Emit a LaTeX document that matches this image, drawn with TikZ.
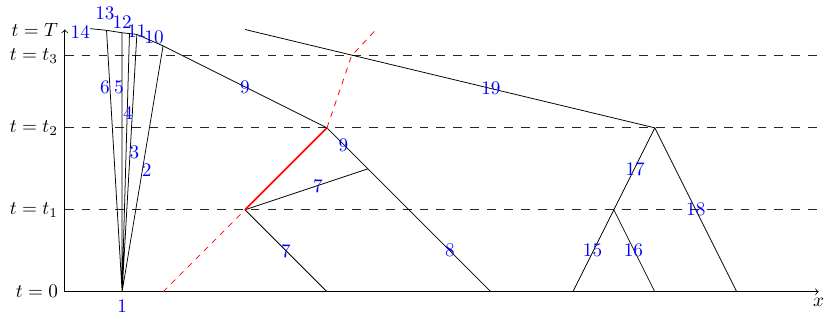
\documentclass[tikz,border=0pt]{standalone}
\usetikzlibrary{arrows}
\begin{document}
\begin{tikzpicture}[x=1.5cm, y=1.5cm,
  level/.style={dash pattern=on 4.6pt off 4.2pt, semithick, black!85},
  wave/.style={draw, black},
  path/.style={red, dashed},
  lbl/.style={text=blue, inner sep=1pt},
]
\useasboundingbox (-1.99,-0.33) rectangle (8.15,3.56);
% axes
\coordinate (O) at (-1.2,0);
\coordinate (xend) at (8,0);
\coordinate (yend) at (-1.2,3.2);
\draw[->] (O) -- (xend) node[below] (xl) {$x$};
\draw[->] (O) -- (yend) node[left] (tT) {$t=T$};
\node[left] (t0) at (O) {$t=0$};
% time levels
\coordinate (l1) at (-1.2,1);    \coordinate (r1) at (8,1);
\coordinate (l2) at (-1.2,2);    \coordinate (r2) at (8,2);
\coordinate (l3) at (-1.2,2.88); \coordinate (r3) at (8,2.88);
\draw[level] (l1) -- (r1); \node[left] (tt1) at (l1) {$t=t_1$};
\draw[level] (l2) -- (r2); \node[left] (tt2) at (l2) {$t=t_2$};
\draw[level] (l3) -- (r3); \node[left] (tt3) at (l3) {$t=t_3$};
% fan
\coordinate (p1) at (-0.5,0);
\coordinate (f14) at (-0.89,3.21);
\coordinate (f6) at (-0.69,3.19);
\coordinate (f5) at (-0.5,3.16);
\coordinate (f4) at (-0.41,3.15);
\coordinate (f3) at (-0.32,3.14);
\coordinate (f2) at (0,3);
\draw[wave] (p1) -- (f6) (p1) -- (f5) (p1) -- (f4) (p1) -- (f3) (p1) -- (f2);
% middle waves
\coordinate (A) at (0,0);
\coordinate (B) at (1,1);
\coordinate (C) at (2,2);
\coordinate (D) at (2.3,2.88);
\coordinate (E) at (2.6,3.2);
\coordinate (b7) at (2,0);
\coordinate (m) at (2.5,1.5);
\coordinate (b8) at (4,0);
\coordinate (top19) at (1,3.2);
\draw[wave] (f14) -- (f6) -- (f5) -- (f4) -- (f3) -- (f2) -- (C) -- (m) -- (b8);
\draw[wave] (B) -- (b7) (B) -- (m);
% right waves
\coordinate (ra) at (5,0);
\coordinate (rb) at (5.5,1);
\coordinate (rc) at (6,2);
\coordinate (rd) at (6,0);
\coordinate (re) at (7,0);
\draw[wave] (top19) -- (rc);
\draw[wave] (ra) -- (rb) -- (rc) -- (re) (rb) -- (rd);
% red path
\draw[path] (A) -- (B);
\draw[red, thick] (B) -- (C);
\draw[path] (C) -- (D) -- (E);
% labels
\node[lbl] (n1) at (-0.5,-0.18) {1};
\node[lbl] (n2) at (-0.2,1.49) {2};
\node[lbl] (n3) at (-0.35,1.70) {3};
\node[lbl] (n4) at (-0.43,2.18) {4};
\node[lbl] (n5) at (-0.54,2.49) {5};
\node[lbl] (n6) at (-0.71,2.49) {6};
\node[lbl] (n10) at (-0.11,3.10) {10};
\node[lbl] (n11) at (-0.32,3.18) {11};
\node[lbl] (n12) at (-0.5,3.29) {12};
\node[lbl] (n13) at (-0.71,3.40) {13};
\node[lbl] (n14) at (-1.01,3.17) {14};
\node[lbl] (n9a) at (1,2.5) {9};
\node[lbl] (n9b) at (2.2,1.79) {9};
\node[lbl] (n7a) at (1.89,1.29) {7};
\node[lbl] (n7b) at (1.5,0.5) {7};
\node[lbl] (n8) at (3.5,0.5) {8};
\node[lbl] (n19) at (4,2.48) {19};
\node[lbl] (n15) at (5.24,0.5) {15};
\node[lbl] (n16) at (5.74,0.5) {16};
\node[lbl] (n17) at (5.76,1.5) {17};
\node[lbl] (n18) at (6.5,1.0) {18};
\end{tikzpicture}
\end{document}
